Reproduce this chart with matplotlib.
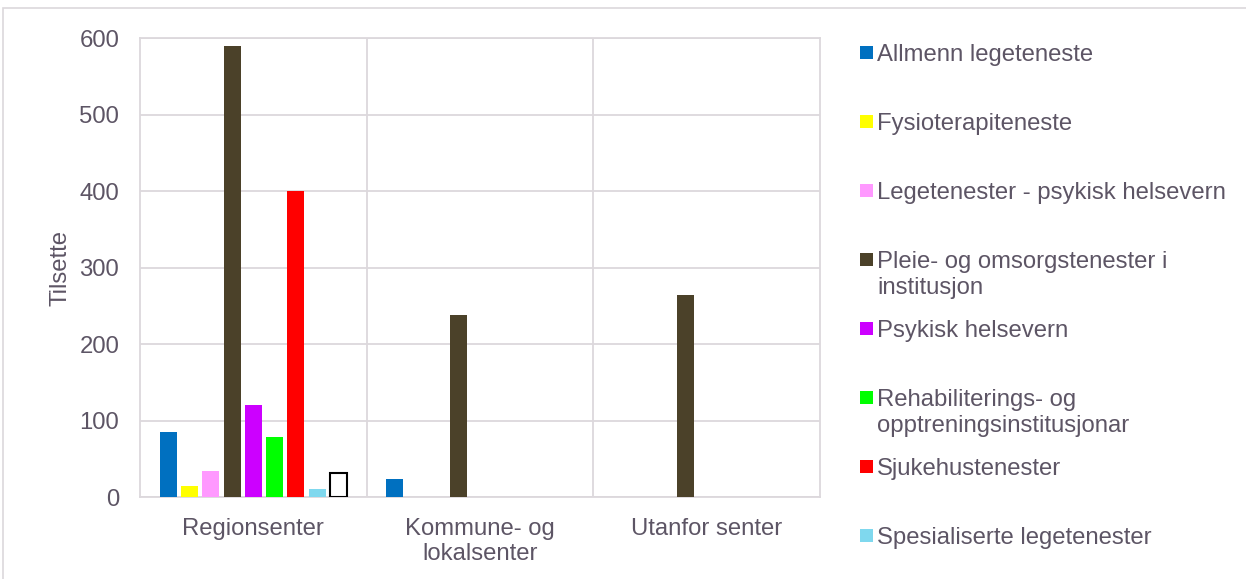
import matplotlib.pyplot as plt
import numpy as np
from matplotlib.patches import Rectangle

plt.rcParams['font.family'] = ['Liberation Sans', 'DejaVu Sans']

categories = ['Regionsenter', 'Kommune- og\nlokalsenter', 'Utanfor senter']
series = ['Allmenn legeteneste', 'Fysioterapiteneste',
          'Legetenester - psykisk helsevern',
          'Pleie- og omsorgstenester i\ninstitusjon', 'Psykisk helsevern',
          'Rehabiliterings- og\nopptreningsinstitusjonar', 'Sjukehustenester',
          'Spesialiserte legetenester', '']
values = [
    [85, 23, 0],
    [15, 0, 0],
    [34, 0, 0],
    [590, 238, 264],
    [120, 0, 0],
    [78, 0, 0],
    [400, 0, 0],
    [11, 0, 0],
    [31, 0, 0],
]
colors = ['#0070c0', '#ffff00', '#ff99ff', '#4b4129', '#cc00ff',
          '#00ff00', '#ff0000', '#7fd8ee', 'white']
yticks = [0, 100, 200, 300, 400, 500, 600]

txt = '#5d5565'
grid = '#dcd8dc'
fs = 17.2

fig = plt.figure(figsize=(12.46, 5.79), dpi=100)
fig.patches.append(Rectangle((0.0025, -0.01), 1.0, 0.996, transform=fig.transFigure,
                             fill=False, edgecolor=grid, linewidth=1.2))
ax = fig.add_axes([0.1124, 0.1416, 0.5457, 0.7927])

x = np.arange(len(categories))
step = 0.094
width = 0.075
for i, (vals, c) in enumerate(zip(values, colors)):
    off = (i - 4) * step
    vals = np.array(vals, dtype=float)
    mask = vals > 0
    if c == 'white':
        ax.bar(x[mask] + off, vals[mask], width, color='white', edgecolor='black',
               linewidth=1.5, zorder=3)
    else:
        ax.bar(x[mask] + off, vals[mask], width, color=c, linewidth=0, zorder=3)

ax.set_xlim(-0.5, 2.5)
ax.set_ylim(0, 600)
ax.set_yticks(yticks)
ax.set_xticks(x)
ax.set_xticklabels(categories, fontsize=fs, color=txt, linespacing=1.2)
ax.tick_params(axis='y', labelsize=fs, labelcolor=txt, length=0, pad=15)
ax.tick_params(axis='x', length=0, pad=15)
for v in yticks:
    ax.axhline(v, color=grid, linewidth=1.3, zorder=1)
for b in [0.5, 1.5]:
    ax.axvline(b, color=grid, linewidth=1.3, zorder=1)
for s in ax.spines.values():
    s.set_color(grid)
    s.set_linewidth(1.3)
ax.set_ylabel('Tilsette', fontsize=fs, color=txt, labelpad=6)

# legend on the right, equal slots
top_y = 1 - 53 / 579
slot = 69 / 579
for i in range(8):
    yy = top_y - i * slot
    fig.patches.append(Rectangle((860 / 1246, yy - 6 / 579), 13 / 1246, 13 / 579,
                                 transform=fig.transFigure, color=colors[i], linewidth=0))
    fig.text(877 / 1246, yy + 9 / 579, series[i], fontsize=fs, color=txt,
             va='top', ha='left', linespacing=1.25)

fig.savefig('out.png', dpi=100)
